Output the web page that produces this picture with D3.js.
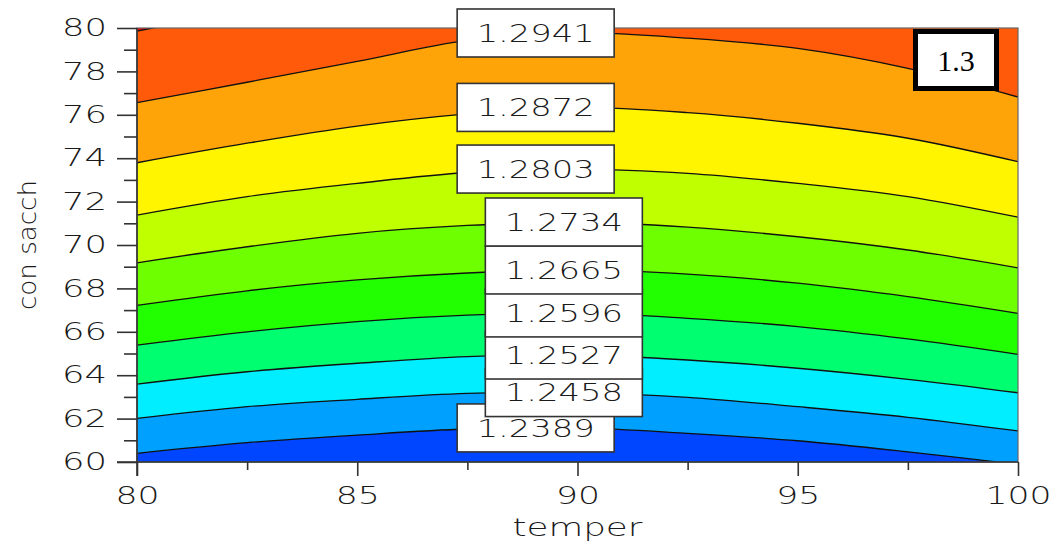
<!DOCTYPE html>
<html>
<head>
<meta charset="utf-8">
<script src="https://cdn.jsdelivr.net/npm/d3@7/dist/d3.min.js"></script>
<style>
  html, body { margin: 0; padding: 0; background: #fff; }
  svg { display: block; }
  .lbl { font-family: "DejaVu Sans", sans-serif; font-weight: 200; fill: #1a1a1a; }
</style>
</head>
<body>
<svg id="chart" width="1057" height="545"></svg>
<script>
// ---------------- DATA ----------------
const temper = [80, 82.5, 85, 87.5, 90, 92.5, 95, 97.5, 100];
const levels = [1.2389, 1.2458, 1.2527, 1.2596, 1.2665, 1.2734, 1.2803, 1.2872, 1.2941, 1.3010];
// con sacch value of each contour line at each temper value
const sacch_1_2389 = [60.40, 60.89, 61.24, 61.52, 61.57, 61.32, 60.98, 60.47, 59.89];
const sacch_1_2458 = [62.01, 62.55, 62.89, 63.16, 63.20, 62.98, 62.55, 62.06, 61.43];
const sacch_1_2527 = [63.59, 64.16, 64.55, 64.86, 64.93, 64.70, 64.32, 63.81, 63.19];
const sacch_1_2596 = [65.39, 66.00, 66.47, 66.77, 66.87, 66.62, 66.24, 65.67, 64.96];
const sacch_1_2665 = [67.22, 67.89, 68.39, 68.71, 68.85, 68.66, 68.24, 67.62, 66.85];
const sacch_1_2734 = [69.18, 69.92, 70.54, 70.90, 71.06, 70.82, 70.38, 69.77, 68.95];
const sacch_1_2803 = [71.38, 72.23, 72.84, 73.34, 73.50, 73.30, 72.84, 72.23, 71.28];
const sacch_1_2872 = [73.79, 74.69, 75.48, 76.04, 76.34, 76.10, 75.61, 74.92, 73.84];
const sacch_1_2941 = [76.56, 77.50, 78.46, 79.43, 79.77, 79.53, 79.06, 78.14, 76.82];
const sacch_1_3010 = [79.86, 80.83, 81.80, 82.58, 82.99, 82.76, 82.30, 81.38, 80.09];
const xTicks = [80, 85, 90, 95, 100];
const xMinorTicks = [82.5, 87.5, 92.5, 97.5];
const yTicks = [60, 62, 64, 66, 68, 70, 72, 74, 76, 78, 80];
const yMinorTicks = [61, 63, 65, 67, 69, 71, 73, 75, 77, 79];
const labelTexts = ["1.2389", "1.2458", "1.2527", "1.2596", "1.2665", "1.2734", "1.2803", "1.2872", "1.2941"];
const labelTemper = [89.05, 89.69, 89.69, 89.69, 89.69, 89.69, 89.05, 89.05, 89.05];
const xTitle = "temper";
const yTitle = "con sacch";
const noteText = "1.3";

// ---------------- STYLE ----------------
const bandColors = ["#0045ff", "#00a0ff", "#00eeff", "#00ff70", "#22ff00", "#6eff00",
                    "#bfff00", "#fff500", "#ffa408", "#ff5a0a", "#f00000"];

const lines = [sacch_1_2389, sacch_1_2458, sacch_1_2527, sacch_1_2596, sacch_1_2665,
               sacch_1_2734, sacch_1_2803, sacch_1_2872, sacch_1_2941, sacch_1_3010];

const svg = d3.select("#chart");
const L = 137, R = 1018, T = 28, B = 462;
const x = d3.scaleLinear().domain([80, 100]).range([L, R]);
const y = d3.scaleLinear().domain([60, 80]).range([B, T]);

svg.append("defs").append("clipPath").attr("id", "plotclip")
  .append("rect").attr("x", L).attr("y", T).attr("width", R - L).attr("height", B - T);

const plot = svg.append("g").attr("clip-path", "url(#plotclip)");
const curve = d3.curveCatmullRom.alpha(0.5);

// lowest band
plot.append("rect").attr("x", L).attr("y", T).attr("width", R - L).attr("height", B - T)
  .attr("fill", bandColors[0]);

lines.forEach((vals, i) => {
  const pts = temper.map((t, k) => [t, vals[k]]);
  const area = d3.area().x(d => x(d[0])).y0(d => y(d[1])).y1(() => y(90)).curve(curve);
  plot.append("path").datum(pts).attr("d", area).attr("fill", bandColors[i + 1]);
});
lines.forEach((vals) => {
  const pts = temper.map((t, k) => [t, vals[k]]);
  const line = d3.line().x(d => x(d[0])).y(d => y(d[1])).curve(curve);
  plot.append("path").datum(pts).attr("d", line).attr("fill", "none")
    .attr("stroke", "#111").attr("stroke-width", 1.3);
});

// frame
svg.append("rect").attr("x", L).attr("y", T).attr("width", R - L).attr("height", B - T)
  .attr("fill", "none").attr("stroke", "#666").attr("stroke-width", 1.2);

// axes
function styleAxis(g) {
  g.select(".domain").remove();
  g.selectAll(".tick line").attr("stroke", "#333").attr("stroke-width", 1.6);
}
const yAxis = svg.append("g").attr("transform", `translate(${L},0)`)
  .call(d3.axisLeft(y).tickValues(yTicks).tickSize(20).tickPadding(10).tickFormat(d3.format("d")));
styleAxis(yAxis);
yAxis.selectAll("text").attr("class", "lbl").attr("font-size", 24)
  .attr("textLength", d => String(d).length * 22.5).attr("lengthAdjust", "spacingAndGlyphs");
const yMinor = svg.append("g").attr("transform", `translate(${L},0)`)
  .call(d3.axisLeft(y).tickValues(yMinorTicks).tickSize(13).tickFormat(""));
styleAxis(yMinor);

const xAxis = svg.append("g").attr("transform", `translate(0,${B})`)
  .call(d3.axisBottom(x).tickValues(xTicks).tickSize(14).tickPadding(11).tickFormat(d3.format("d")));
styleAxis(xAxis);
xAxis.selectAll("text").attr("class", "lbl").attr("font-size", 24)
  .attr("textLength", d => String(d).length * 22).attr("lengthAdjust", "spacingAndGlyphs");
const xMinor = svg.append("g").attr("transform", `translate(0,${B})`)
  .call(d3.axisBottom(x).tickValues(xMinorTicks).tickSize(8).tickFormat(""));
styleAxis(xMinor);

// axis lines
svg.append("line").attr("x1", L).attr("x2", L).attr("y1", T).attr("y2", B + 14)
  .attr("stroke", "#333").attr("stroke-width", 1.6);
svg.append("line").attr("x1", L - 20).attr("x2", R).attr("y1", B).attr("y2", B)
  .attr("stroke", "#333").attr("stroke-width", 1.6);

// titles
svg.append("text").attr("class", "lbl").attr("font-size", 24)
  .attr("x", (L + R) / 2).attr("y", 536).attr("text-anchor", "middle")
  .attr("textLength", 130).attr("lengthAdjust", "spacingAndGlyphs").text(xTitle);
svg.append("text").attr("class", "lbl").attr("font-size", 24)
  .attr("transform", `translate(36,${(T + B) / 2}) rotate(-90)`).attr("text-anchor", "middle")
  .attr("textLength", 130).attr("lengthAdjust", "spacingAndGlyphs").text(yTitle);

// contour labels (drawn bottom to top so upper boxes overlap lower ones)
const boxW = 157, boxH = 48;
labelTexts.forEach((txt, i) => {
  const vals = lines[i];
  const cx = x(labelTemper[i]);
  const cy = y(vals[4]);
  const g = svg.append("g");
  g.append("rect").attr("x", cx - boxW / 2).attr("y", cy - boxH / 2)
    .attr("width", boxW).attr("height", boxH)
    .attr("fill", "#fff").attr("stroke", "#333").attr("stroke-width", 1.6);
  g.append("text").attr("class", "lbl").attr("font-size", 24)
    .attr("x", cx).attr("y", cy).attr("dy", "0.36em").attr("text-anchor", "middle")
    .attr("textLength", 118).attr("lengthAdjust", "spacingAndGlyphs").text(txt);
});

// note box
svg.append("rect").attr("x", 915.5).attr("y", 31.5).attr("width", 81).attr("height", 57)
  .attr("fill", "#fff").attr("stroke", "#000").attr("stroke-width", 5);
svg.append("text").attr("x", 956).attr("y", 71).attr("text-anchor", "middle")
  .attr("font-family", "'Liberation Serif', 'Times New Roman', serif").attr("font-size", 30)
  .attr("fill", "#000").text(noteText);
</script>
</body>
</html>
